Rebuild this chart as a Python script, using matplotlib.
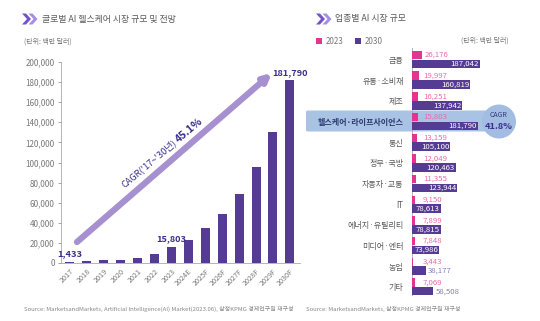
import matplotlib
matplotlib.use("Agg")
import matplotlib.pyplot as plt
from matplotlib.patches import Polygon, Ellipse, FancyBboxPatch
from matplotlib.ticker import FuncFormatter

plt.rcParams["font.family"] = ["Noto Sans CJK KR", "DejaVu Sans"]

# ── data ─────────────────────────────────────────────────────────────────
years = ["2017", "2018", "2019", "2020", "2021", "2022", "2023", "2024E",
         "2025F", "2026F", "2027F", "2028F", "2029F", "2030F"]
market = [1433, 1950, 2500, 3100, 5300, 8600, 15803, 23000,
          34500, 48800, 68400, 95200, 130700, 181790]
labeled = {0: "1,433", 6: "15,803", 13: "181,790"}

sectors = ["금융", "유통·소비재", "제조", "헬스케어·라이프사이언스", "통신",
           "정부·국방", "자동차·교통", "IT", "에너지·유틸리티", "미디어·엔터",
           "농업", "기타"]
v2023 = [26176, 19997, 16251, 15803, 13159, 12049, 11355, 9150, 7899, 7848,
         3443, 7069]
v2030 = [187042, 160819, 137942, 181790, 105100, 120463, 123944, 78613,
         78815, 73986, 38177, 58508]
highlight = 3

PURPLE = "#553b93"
PINK = "#e3358f"
PINK_TXT = "#f068a9"
LPURPLE_TXT = "#8a7cc6"
NAVY = "#3a2f8c"
GRAY = "#5a5a5a"
W, H = 540, 321


def px(x, y):
    return x / W, 1 - y / H


fig = plt.figure(figsize=(W / 100, H / 100), dpi=100, facecolor="white")


def chevron(x0, y0):
    # two thick chevrons, darker one first
    for dx, col in [(0, "#7453c4"), (6.5, "#a48ee2")]:
        pts = [(x0 + dx, y0), (x0 + dx + 4, y0), (x0 + dx + 9, y0 + 5.5),
               (x0 + dx + 4, y0 + 11), (x0 + dx, y0 + 11), (x0 + dx + 5, y0 + 5.5)]
        fig.add_artist(Polygon([px(a, b) for a, b in pts], closed=True,
                               transform=fig.transFigure, color=col, lw=0))


# ── left: global AI healthcare market ───────────────────────────────────
chevron(22, 13.5)
fig.text(*px(42, 19), "글로벌 AI 헬스케어 시장 규모 및 전망", fontsize=6.4,
         color=GRAY, va="center")
fig.text(*px(24, 42), "(단위: 백만 달러)", fontsize=5.0, color="#777", va="center")

axl = fig.add_axes([61 / W, (H - 263) / H, (300 - 61) / W, (263 - 62) / H])
xs = list(range(len(years)))
axl.bar(xs, market, width=0.53, color=PURPLE, zorder=3)
axl.set_xlim(-0.53, 13.6)
axl.set_ylim(0, 200000)
axl.set_yticks(range(0, 200001, 20000))
axl.yaxis.set_major_formatter(FuncFormatter(lambda v, p: f"{int(v):,}"))
axl.set_xticks(xs)
axl.set_xticklabels(years, rotation=45, ha="right", rotation_mode="anchor")
axl.tick_params(axis="y", labelsize=5.8, colors="#999", labelcolor="#777",
                length=2.5, width=0.6, pad=2)
axl.tick_params(axis="x", labelsize=5.2, labelcolor="#777", length=0, pad=3)
for s in ["top", "right"]:
    axl.spines[s].set_visible(False)
for s in ["left", "bottom"]:
    axl.spines[s].set_color("#aaa")
    axl.spines[s].set_linewidth(0.6)
for i, lab in labeled.items():
    axl.text(i, market[i] + 3500, lab, ha="center", va="bottom", fontsize=6.6,
             fontweight="bold", color=NAVY, zorder=4)

axl.annotate("", xy=(272, H - 73), xycoords="figure pixels",
             xytext=(77, H - 242), textcoords="figure pixels",
             arrowprops=dict(arrowstyle="-|>", lw=4.5, color="#a690d0",
                             mutation_scale=11, shrinkA=0, shrinkB=0))
fig.text(*px(149, 163), "CAGR('17~'30년)", fontsize=6.6, color=NAVY,
         rotation=40, ha="center", va="center")
fig.text(*px(189, 130), "45.1%", fontsize=7.6, fontweight="bold", color=NAVY,
         rotation=40, ha="center", va="center")

# ── right: AI market by sector ──────────────────────────────────────────
chevron(316, 13.5)
fig.text(*px(335, 19), "업종별 AI 시장 규모", fontsize=6.4, color=GRAY, va="center")
fig.text(*px(461, 41), "(단위: 백만 달러)", fontsize=5.0, color="#777", va="center")
for x0, col, lab in [(316, PINK, "2023"), (355, PURPLE, "2030")]:
    fig.add_artist(FancyBboxPatch(px(x0, 44), 6 / W, 6 / H, boxstyle="square,pad=0",
                                  transform=fig.transFigure, color=col, lw=0))
    fig.text(*px(x0 + 10, 41), lab, fontsize=5.8, color="#777", va="center")

# highlight band + CAGR bubble
fig.add_artist(FancyBboxPatch(px(306, 131.5), (492 - 306) / W, 21 / H,
                              boxstyle="round,pad=0,rounding_size=0.004",
                              transform=fig.transFigure, color="#a9c3e5",
                              lw=0, zorder=-1))
fig.add_artist(Ellipse(px(499, 121.5), 34 / W, 34 / H, transform=fig.transFigure,
                       color="#a2bce2", lw=0, zorder=-1))
fig.text(*px(499, 115), "CAGR", fontsize=5.0, color="#2e3a7a", ha="center", va="center")
fig.text(*px(499, 126.5), "41.8%", fontsize=6.6, fontweight="bold", color=NAVY,
         ha="center", va="center")

axr = fig.add_axes([412 / W, (H - 295) / H, 128 / W, (295 - 48) / H])
axr.set_facecolor("none")
ys = list(range(len(sectors)))
off, bh = 0.215, 0.41
axr.barh([y - off for y in ys], v2023, height=bh, color=PINK, zorder=3)
axr.barh([y + off for y in ys], v2030, height=bh, color=PURPLE, zorder=3)
axr.set_xlim(0, 352600)
axr.set_ylim(11.39, -0.556)
axr.set_xticks([])
axr.set_yticks(ys)
axr.set_yticklabels(sectors)
axr.tick_params(axis="y", length=0, pad=6, labelsize=5.8, labelcolor=GRAY)
hl = axr.get_yticklabels()[highlight]
hl.set_fontweight("bold")
hl.set_color("#2c3a70")
for s in ["top", "right", "bottom"]:
    axr.spines[s].set_visible(False)
axr.spines["left"].set_color("#aaa")
axr.spines["left"].set_linewidth(0.6)

for y, a, b in zip(ys, v2023, v2030):
    axr.text(max(a + 8000, 30000), y - off, f"{a:,}", fontsize=5.6,
             color=PINK_TXT, va="center", ha="left", zorder=4)
    if b >= 70000:
        axr.text(b - 2500, y + off, f"{b:,}", fontsize=5.6, color="white",
                 va="center", ha="right", zorder=4)
    else:
        axr.text(b + 6000, y + off, f"{b:,}", fontsize=5.6, color=LPURPLE_TXT,
                 va="center", ha="left", zorder=4)

# ── sources ──────────────────────────────────────────────────────────────
fig.text(*px(24, 309), "Source: MarketsandMarkets, Artificial Intelligence(AI) "
         "Market(2023.06), 삼정KPMG 경제연구원 재구성", fontsize=4.3, color="#888",
         va="center")
fig.text(*px(306, 309), "Source: MarketsandMarkets, 삼정KPMG 경제연구원 재구성",
         fontsize=4.3, color="#888", va="center")

fig.savefig("out.png", dpi=100, facecolor="white")
